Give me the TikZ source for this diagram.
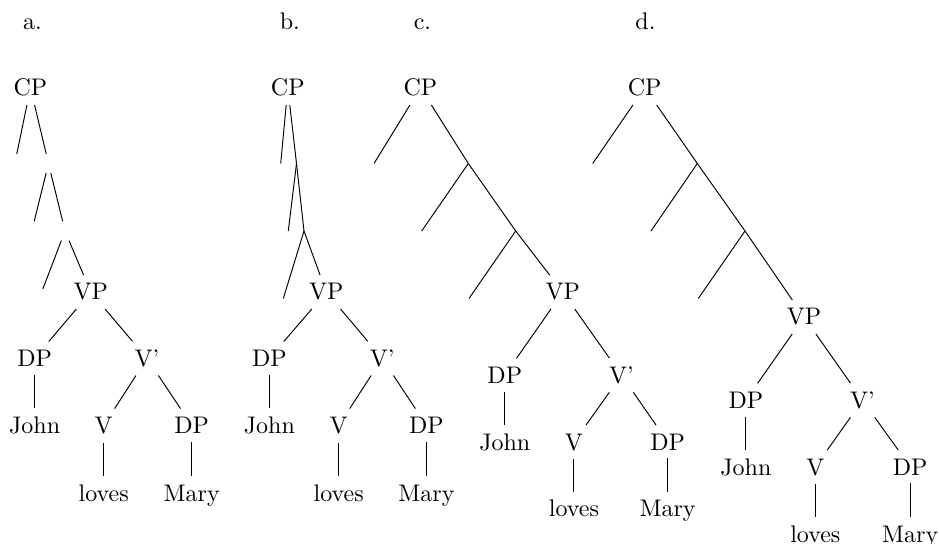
\documentclass[tikz,border=0pt]{standalone}
\begin{document}
\begin{tikzpicture}[x=0.41667pt, y=-0.41667pt,
  lbl/.style={anchor=base},
  gapnode/.style={inner sep=0pt, minimum size=7.6pt},
  tag/.style={anchor=base west, inner sep=0pt}]
\useasboundingbox (0,0) rectangle (939,544);

% labels
\node[tag] (ta) at (22.7,29.5) {a.};
\node[tag] (tb) at (279.3,29.5) {b.};
\node[tag] (tc) at (413.3,29.5) {c.};
\node[tag] (td) at (635,29.5) {d.};

% ---------------- tree a ----------------
\node[lbl] (aCP) at (30.5,96) {CP};
\node[gapnode] (aL1) at (14.8,163.5) {};
\node[gapnode] (aX1) at (48.5,163.5) {};
\node[gapnode] (aL2) at (31.8,231) {};
\node[gapnode] (aX2) at (65,231) {};
\node[gapnode] (aL3) at (39.2,298.5) {};
\node[lbl] (aVP) at (90.7,300) {VP};
\node[lbl] (aDP) at (34.6,366.5) {DP};
\node[lbl] (aVb) at (147,366.5) {V'};
\node[lbl] (aJ) at (34.6,433.5) {John};
\node[lbl] (aV) at (103.7,433.5) {V};
\node[lbl] (aDP2) at (191.7,433.5) {DP};
\node[lbl] (aLv) at (103.7,501) {loves};
\node[lbl] (aM) at (191.7,501) {Mary};
\draw (aCP) -- (aL1);
\draw (aCP) -- (aX1);
\draw (aX1) -- (aL2);
\draw (aX1) -- (aX2);
\draw (aX2) -- (aL3);
\draw (aX2) -- (aVP);
\draw (aVP) -- (aDP);
\draw (aVP) -- (aVb);
\draw (aDP) -- (aJ);
\draw (aVb) -- (aV);
\draw (aVb) -- (aDP2);
\draw (aV) -- (aLv);
\draw (aDP2) -- (aM);

% ---------------- tree b ----------------
\node[lbl] (bCP) at (287.8,96) {CP};
\coordinate (bL1) at (280.7,163.5);
\coordinate (bX1) at (296.5,163.5);
\coordinate (bL2) at (288.3,231);
\coordinate (bX2) at (304,231);
\coordinate (bL3) at (283.3,298.5);
\node[lbl] (bVP) at (326.3,300) {VP};
\node[lbl] (bDP) at (269.4,366.5) {DP};
\node[lbl] (bVb) at (382.2,366.5) {V'};
\node[lbl] (bJ) at (269.4,433.5) {John};
\node[lbl] (bV) at (338.7,433.5) {V};
\node[lbl] (bDP2) at (426.4,433.5) {DP};
\node[lbl] (bLv) at (338.7,501) {loves};
\node[lbl] (bM) at (426.4,501) {Mary};
\draw (bCP) -- (bL1);
\draw (bCP) -- (bX1);
\draw (bX1) -- (bL2);
\draw (bX1) -- (bX2);
\draw (bX2) -- (bL3);
\draw (bX2) -- (bVP);
\draw (bVP) -- (bDP);
\draw (bVP) -- (bVb);
\draw (bDP) -- (bJ);
\draw (bVb) -- (bV);
\draw (bVb) -- (bDP2);
\draw (bV) -- (bLv);
\draw (bDP2) -- (bM);

% ---------------- tree c ----------------
\node[lbl] (cCP) at (420.5,96) {CP};
\coordinate (cL1) at (374,163.5);
\coordinate (cX1) at (468.3,163.5);
\coordinate (cL2) at (421.7,231);
\coordinate (cX2) at (515.7,231);
\coordinate (cL3) at (469,298.5);
\node[lbl] (cVP) at (562.8,300) {VP};
\node[lbl] (cDP) at (504.8,383.3) {DP};
\node[lbl] (cVb) at (621.5,383.3) {V'};
\node[lbl] (cJ) at (504.8,450) {John};
\node[lbl] (cV) at (573.9,450) {V};
\node[lbl] (cDP2) at (667.6,450) {DP};
\node[lbl] (cLv) at (573.9,516.7) {loves};
\node[lbl] (cM) at (667.6,516.7) {Mary};
\draw (cCP) -- (cL1);
\draw (cCP) -- (cX1);
\draw (cX1) -- (cL2);
\draw (cX1) -- (cX2);
\draw (cX2) -- (cL3);
\draw (cX2) -- (cVP);
\draw (cVP) -- (cDP);
\draw (cVP) -- (cVb);
\draw (cDP) -- (cJ);
\draw (cVb) -- (cV);
\draw (cVb) -- (cDP2);
\draw (cV) -- (cLv);
\draw (cDP2) -- (cM);

% ---------------- tree d ----------------
\node[lbl] (dCP) at (644.7,96) {CP};
\coordinate (dL1) at (592.7,163.5);
\coordinate (dX1) at (697.3,163.5);
\coordinate (dL2) at (651,231);
\coordinate (dX2) at (745,231);
\coordinate (dL3) at (698.3,298.5);
\node[lbl] (dVP) at (804,325) {VP};
\node[lbl] (dDP) at (745.9,408.3) {DP};
\node[lbl] (dVb) at (862.5,408.3) {V'};
\node[lbl] (dJ) at (745.9,475) {John};
\node[lbl] (dV) at (815.3,475) {V};
\node[lbl] (dDP2) at (910.2,475) {DP};
\node[lbl] (dLv) at (815.3,542) {loves};
\node[lbl] (dM) at (910.2,542) {Mary};
\draw (dCP) -- (dL1);
\draw (dCP) -- (dX1);
\draw (dX1) -- (dL2);
\draw (dX1) -- (dX2);
\draw (dX2) -- (dL3);
\draw (dX2) -- (dVP);
\draw (dVP) -- (dDP);
\draw (dVP) -- (dVb);
\draw (dDP) -- (dJ);
\draw (dVb) -- (dV);
\draw (dVb) -- (dDP2);
\draw (dV) -- (dLv);
\draw (dDP2) -- (dM);
\end{tikzpicture}
\end{document}
